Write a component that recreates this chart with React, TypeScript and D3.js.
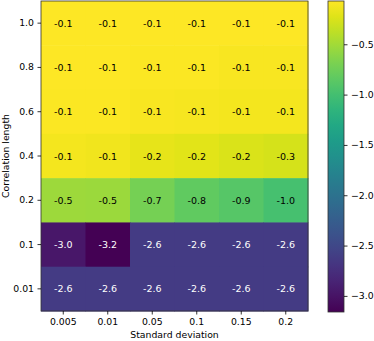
import React, { useRef, useEffect } from "react";
import * as d3 from "d3";

// rows top to bottom, columns left to right
const stdLabels = ["0.005", "0.01", "0.05", "0.1", "0.15", "0.2"];
const corrLabels = ["1.0", "0.8", "0.6", "0.4", "0.2", "0.1", "0.01"];

const row10 = [-0.07, -0.07, -0.07, -0.08, -0.08, -0.08];
const row08 = [-0.08, -0.08, -0.09, -0.09, -0.1, -0.1];
const row06 = [-0.09, -0.09, -0.1, -0.11, -0.12, -0.13];
const row04 = [-0.12, -0.14, -0.18, -0.21, -0.24, -0.27];
const row02 = [-0.52, -0.54, -0.71, -0.82, -0.89, -0.98];
const row01 = [-2.97, -3.16, -2.62, -2.62, -2.62, -2.62];
const row001 = [-2.62, -2.62, -2.62, -2.62, -2.62, -2.62];
const values = [row10, row08, row06, row04, row02, row01, row001];

const cbTicks = [-0.5, -1.0, -1.5, -2.0, -2.5, -3.0];

const FONT = "'DejaVu Sans', sans-serif";
const FS = "9.3px";

const App = () => {
  const ref = useRef<SVGSVGElement>(null);

  useEffect(() => {
    document.body.style.margin = "0";
    const svg = d3.select(ref.current);
    svg.selectAll("*").remove();

    const left = 41, right = 308, top = 1, bottom = 311;

    const x = d3.scaleBand().domain(stdLabels).range([left, right]);
    const y = d3.scaleBand().domain(corrLabels).range([top, bottom]);

    const flat = values.flat();
    const vmin = d3.min(flat);
    const vmax = d3.max(flat);
    const color = d3.scaleSequential(d3.interpolateViridis).domain([vmin, vmax]);

    const cells = [];
    values.forEach((row, i) => {
      row.forEach((v, j) => cells.push({ r: corrLabels[i], c: stdLabels[j], v }));
    });

    const g = svg.append("g");
    g.selectAll("rect")
      .data(cells)
      .join("rect")
      .attr("x", d => x(d.c))
      .attr("y", d => y(d.r))
      .attr("width", x.bandwidth() + 0.5)
      .attr("height", y.bandwidth() + 0.5)
      .attr("fill", d => color(d.v));

    g.selectAll("text")
      .data(cells)
      .join("text")
      .attr("x", d => x(d.c) + x.bandwidth() / 2)
      .attr("y", d => y(d.r) + y.bandwidth() / 2)
      .attr("text-anchor", "middle")
      .attr("dominant-baseline", "central")
      .style("font-family", FONT)
      .style("font-size", "9.5px")
      .attr("fill", d => (d.v < -2 ? "#ffffff" : "#000000"))
      .text(d => (Math.round(d.v * 10) / 10).toFixed(1));

    svg.append("rect")
      .attr("x", left)
      .attr("y", top)
      .attr("width", right - left)
      .attr("height", bottom - top)
      .attr("fill", "none")
      .attr("stroke", "#333")
      .attr("stroke-width", 0.8);

    const xAxis = svg.append("g")
      .attr("transform", `translate(0,${bottom})`)
      .call(d3.axisBottom(x).tickSize(3.5).tickPadding(3.5));
    const yAxis = svg.append("g")
      .attr("transform", `translate(${left},0)`)
      .call(d3.axisLeft(y).tickSize(3.5).tickPadding(3.5));
    [xAxis, yAxis].forEach(a => {
      a.select(".domain").remove();
      a.selectAll("line").attr("stroke", "#000").attr("stroke-width", 0.8);
      a.selectAll("text").style("font-family", FONT).style("font-size", FS).attr("fill", "#000");
    });

    svg.append("text")
      .attr("x", (left + right) / 2)
      .attr("y", 338)
      .attr("text-anchor", "middle")
      .style("font-family", FONT)
      .style("font-size", FS)
      .text("Standard deviation");

    svg.append("text")
      .attr("transform", `translate(9,${(top + bottom) / 2}) rotate(-90)`)
      .attr("text-anchor", "middle")
      .style("font-family", FONT)
      .style("font-size", FS)
      .text("Correlation length");

    // colorbar
    const cbLeft = 328, cbRight = 344, cbTop = 1, cbBottom = 312;
    const cbScale = d3.scaleLinear().domain([vmin, vmax]).range([cbBottom, cbTop]);
    const defs = svg.append("defs");
    const grad = defs.append("linearGradient")
      .attr("id", "cbgrad")
      .attr("x1", 0).attr("y1", 1).attr("x2", 0).attr("y2", 0);
    d3.range(0, 1.0001, 0.05).forEach(t => {
      grad.append("stop")
        .attr("offset", t)
        .attr("stop-color", d3.interpolateViridis(t));
    });
    svg.append("rect")
      .attr("x", cbLeft)
      .attr("y", cbTop)
      .attr("width", cbRight - cbLeft)
      .attr("height", cbBottom - cbTop)
      .attr("fill", "url(#cbgrad)")
      .attr("stroke", "#333")
      .attr("stroke-width", 0.8);

    const cbAxis = svg.append("g")
      .attr("transform", `translate(${cbRight},0)`)
      .call(d3.axisRight(cbScale).tickValues(cbTicks).tickSize(3.5).tickPadding(3.5)
        .tickFormat(d => d3.format(".1f")(d).replace("-", "\u2212")));
    cbAxis.select(".domain").remove();
    cbAxis.selectAll("line").attr("stroke", "#000").attr("stroke-width", 0.8);
    cbAxis.selectAll("text").style("font-family", FONT).style("font-size", FS).attr("fill", "#000");
  }, []);

  return <svg ref={ref} width={374} height={341} style={{ display: "block" }} />;
};

export default App;
